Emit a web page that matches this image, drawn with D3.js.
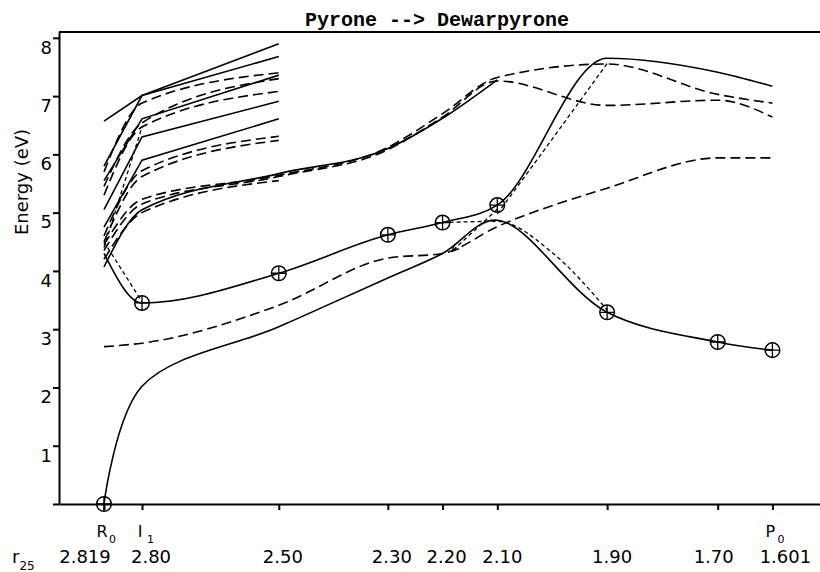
<!DOCTYPE html>
<html>
<head>
<meta charset="utf-8">
<script src="https://cdn.jsdelivr.net/npm/d3@7"></script>
<style>
  body { margin: 0; background: #fff; }
  .axis path, .axis line { stroke: #000; stroke-width: 2; }
  .axis text { font-family: "DejaVu Sans", sans-serif; font-size: 18px; fill: #000; }
  .curve { fill: none; stroke: #000; stroke-width: 1.6; }
  .dashed { stroke-dasharray: 10, 5; }
  .dotted { stroke-dasharray: 4, 3; stroke-width: 1.3; }
  .label { font-family: "DejaVu Sans", sans-serif; fill: #000; }
</style>
</head>
<body>
<div id="chart"></div>
<script>
// reaction coordinate of each computed geometry, and its r25 value
const pathCoord = [0, 1, 4.6, 7.47, 8.91, 10.35, 13.24, 16.15, 17.59];
const r25Labels = ["2.819", "2.80", "2.50", "2.30", "2.20", "2.10", "1.90", "1.70", "1.601"];
const pointNames = ["R", "I", "", "", "", "", "", "", "P"];
const pointSubs = ["0", "1", "", "", "", "", "", "", "0"];
const energyTicks = [0, 1, 2, 3, 4, 5, 6, 7, 8];

// energies (eV) at the geometries above
const lowerSolid = [0.0, 2.02, 3.04, 3.88, 4.30, 4.87, 3.29, 2.78, 2.64];
const lowerDashed = [2.70, 2.76, 3.41, 4.22, 4.30, 4.76, 5.42, 5.94, 5.94];
const circleSolid = [4.30, 3.45, 3.96, 4.62, 4.83, 5.13, 7.65, 7.41, 7.17];
const upperSolid = [4.07, 5.05, 5.67, 6.10, 6.62, 7.28];
const upperDashedA = [4.45, 5.23, 5.64, 6.12, 6.70, 7.32, 7.55, 7.03, 6.88];
const upperDashedB = [4.35, 5.15, 5.62, 6.08, 6.64, 7.26, 6.84, 6.93, 6.64];

// upper states only computed at R0, I1 and 2.50
const bundleSolid = [
  [6.57, 7.01, 7.90],
  [5.80, 7.01, 7.68],
  [5.55, 6.61, 7.36],
  [5.05, 6.30, 6.91],
  [4.75, 5.90, 6.61]
];
const bundleDashed = [
  [5.70, 6.88, 7.40],
  [5.45, 6.54, 7.30],
  [5.30, 6.47, 7.08],
  [4.60, 5.72, 6.31],
  [4.50, 5.62, 6.24],
  [4.20, 5.00, 5.55]
];

// pathway markers (one per geometry)
const pathwayEnergy = [0.0, 3.45, 3.96, 4.62, 4.83, 5.13, 3.29, 2.78, 2.64];

// dotted pathway links, [coordinate, energy]
const dropToI1 = [[0, 4.50], [1, 3.47]];
const riseToI1 = [[0, 4.40], [1, 6.47]];
const crossingPath = [[8.91, 4.83], [10.35, 4.85], [11.82, 4.30], [13.24, 3.33]];
const returnArrow = [[10.35, 5.06], [9.16, 4.34]];
const upperHop = [[10.35, 4.98], [11.5, 6.0], [13.24, 7.56]];

const margin = { top: 32, right: 0, bottom: 68, left: 59 };
const width = 820 - margin.left - margin.right;
const height = 572 - margin.top - margin.bottom;

const root = d3.select("#chart").append("svg")
  .attr("width", 820)
  .attr("height", 572);

const svg = root.append("g")
  .attr("transform", `translate(${margin.left},${margin.top})`);

const xScale = d3.scaleLinear().domain([-1.184, 18.842]).range([0, width]);
const yScale = d3.scaleLinear().domain([0, 8.1]).range([height, 0]);

const smooth = d3.line()
  .x(d => xScale(d[0]))
  .y(d => yScale(d[1]))
  .curve(d3.curveMonotoneX);

// ground state bends round I1 without a kink
const rounded = d3.line()
  .x(d => xScale(d[0]))
  .y(d => yScale(d[1]))
  .curve(d3.curveCatmullRom.alpha(0.5));

const straight = d3.line()
  .x(d => xScale(d[0]))
  .y(d => yScale(d[1]));

const withCoord = arr => arr.map((e, i) => [pathCoord[i], e]);

// axes
svg.append("g")
  .attr("class", "axis")
  .attr("transform", `translate(0,${height})`)
  .call(d3.axisBottom(xScale).tickValues(pathCoord).tickSize(6).tickSizeOuter(0).tickFormat(""));

svg.append("g")
  .attr("class", "axis")
  .call(d3.axisLeft(yScale).tickValues(energyTicks).tickSize(6).tickSizeOuter(0)
    .tickPadding(1).tickFormat(d => d === 0 ? "" : d))
  .selectAll("text")
  .attr("dy", "0.85em");

// top frame line
svg.append("line")
  .attr("x1", 0).attr("x2", width)
  .attr("y1", 0).attr("y2", 0)
  .attr("stroke", "#000")
  .attr("stroke-width", 2);

// upper bundle
bundleSolid.forEach(s => {
  svg.append("path").attr("class", "curve").attr("d", straight(withCoord(s)));
});
bundleDashed.forEach(s => {
  svg.append("path").attr("class", "curve dashed").attr("d", smooth(withCoord(s)));
});

// long curves
svg.append("path").attr("class", "curve").attr("d", rounded(withCoord(lowerSolid)));
svg.append("path").attr("class", "curve dashed").attr("d", smooth(withCoord(lowerDashed)));
svg.append("path").attr("class", "curve").attr("d", smooth(withCoord(circleSolid)));
svg.append("path").attr("class", "curve").attr("d", smooth(withCoord(upperSolid)));
svg.append("path").attr("class", "curve dashed").attr("d", smooth(withCoord(upperDashedA)));
svg.append("path").attr("class", "curve dashed").attr("d", smooth(withCoord(upperDashedB)));

// dotted pathway
[dropToI1, riseToI1].forEach(p => {
  svg.append("path").attr("class", "curve dotted").attr("d", straight(p));
});
[crossingPath, upperHop].forEach(p => {
  svg.append("path").attr("class", "curve dotted").attr("d", smooth(p));
});

root.append("defs").append("marker")
  .attr("id", "arrow")
  .attr("viewBox", "0 0 10 10")
  .attr("refX", 9).attr("refY", 5)
  .attr("markerWidth", 6).attr("markerHeight", 6)
  .attr("orient", "auto")
  .append("path")
  .attr("d", "M0,1 L10,5 L0,9")
  .attr("fill", "none")
  .attr("stroke", "#000")
  .attr("stroke-width", 1.5);

svg.append("path")
  .attr("class", "curve dotted")
  .attr("d", straight(returnArrow))
  .attr("marker-end", "url(#arrow)");

// pathway circles
const marks = svg.selectAll(".mark")
  .data(withCoord(pathwayEnergy))
  .enter()
  .append("g")
  .attr("class", "mark")
  .attr("transform", d => `translate(${xScale(d[0])},${yScale(d[1])})`);

marks.append("circle")
  .attr("r", 7.3)
  .attr("fill", "none")
  .attr("stroke", "#000")
  .attr("stroke-width", 1.5);

marks.append("path")
  .attr("d", "M-7,0H7M0,-7V7")
  .attr("stroke", "#000")
  .attr("stroke-width", 1.3);

// title
root.append("text")
  .attr("class", "title")
  .attr("x", 437)
  .attr("y", 26)
  .attr("text-anchor", "middle")
  .style("font-family", "'Liberation Mono', monospace")
  .style("font-weight", "bold")
  .style("font-size", "20px")
  .text("Pyrone --> Dewarpyrone");

// y-axis label
root.append("text")
  .attr("class", "label")
  .attr("transform", "rotate(-90)")
  .attr("x", -182)
  .attr("y", 28)
  .attr("text-anchor", "middle")
  .style("font-size", "18px")
  .text("Energy (eV)");

// geometry names under the axis
const labelNudge = [-19, 9, 4, 4, 4, 5, 5, -4, 13];

pathCoord.forEach((s, i) => {
  const x = margin.left + xScale(s);
  if (pointNames[i]) {
    root.append("text")
      .attr("class", "label")
      .attr("x", x - 2)
      .attr("y", 537)
      .attr("text-anchor", "middle")
      .style("font-size", "16px")
      .text(pointNames[i]);
    root.append("text")
      .attr("class", "label")
      .attr("x", x + 5)
      .attr("y", 543)
      .style("font-size", "11px")
      .text(pointSubs[i]);
  }
  root.append("text")
    .attr("class", "label")
    .attr("x", x + labelNudge[i])
    .attr("y", 563)
    .attr("text-anchor", "middle")
    .style("font-size", "18px")
    .text(r25Labels[i]);
});

// r25 row label
const rLabel = root.append("text")
  .attr("class", "label")
  .attr("x", 12)
  .attr("y", 563)
  .style("font-size", "18px");
rLabel.append("tspan").text("r");
rLabel.append("tspan").attr("dy", 7).style("font-size", "12px").text("25");
</script>
</body>
</html>
